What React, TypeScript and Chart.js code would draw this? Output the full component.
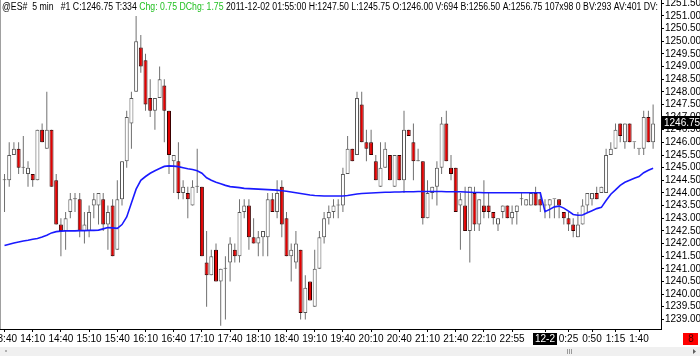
import React, { useEffect, useRef } from 'react';
import { Chart, registerables } from 'chart.js';

Chart.register(...registerables);

// ---- data (5 min bars, index 0 = 13:40) ----
const opens = [
  1244.5, 1244.5, 1245.5, 1245.75, 1245.0, 1244.75, 1244.75, 1244.5, 1246.5, 1245.75,
  1246.5, 1244.5, 1242.75, 1242.5, 1243.25, 1243.75, 1243.75, 1242.5, 1242.5, 1243.5,
  1243.5, 1243.75, 1242.75, 1243.5, 1241.75, 1243.75, 1245.25, 1246.75, 1248.0, 1249.75,
  1249.25, 1247.75, 1247.25, 1247.75, 1248.25, 1247.25, 1245.25, 1245.25, 1244.0, 1244.0,
  1243.5, 1244.25, 1244.25, 1241.25, 1240.75, 1241.75, 1240.5, 1241.0, 1241.25, 1241.75,
  1241.5, 1243.25, 1243.5, 1242.25, 1242.0, 1242.25, 1242.25, 1243.75, 1243.25, 1244.25,
  1243.0, 1241.5, 1241.25, 1241.75, 1239.25, 1240.5, 1239.5, 1241.0, 1242.25, 1243.0,
  1243.25, 1243.5, 1243.5, 1244.75, 1245.75, 1245.5, 1247.5, 1246.0, 1246.0, 1245.25,
  1244.25, 1245.0, 1245.5, 1244.25, 1245.5, 1244.5, 1246.5, 1246.0, 1245.25, 1245.25,
  1243.0, 1244.0, 1244.25, 1245.0, 1246.75, 1245.0, 1245.0, 1243.5, 1243.5, 1242.5,
  1244.0, 1242.75, 1243.5, 1243.5, 1243.25, 1242.75, 1243.25, 1243.5, 1243.0, 1243.25,
  1243.75, 1243.5, 1243.5, 1244.0, 1243.75, 1243.5, 1243.5, 1243.75, 1243.75, 1243.25,
  1243.0, 1242.75, 1242.25, 1242.75, 1243.5, 1243.75, 1244.0, 1244.0, 1244.0, 1245.5,
  1245.75, 1246.75, 1246.0, 1246.75, 1246.0, 1245.75, 1245.75, 1247.0, 1246.0,
];
const highs = [
  1244.75, 1246.0, 1246.0, 1246.0, 1246.25, 1245.25, 1244.75, 1246.5, 1246.75, 1248.0,
  1246.5, 1244.75, 1243.0, 1243.25, 1244.0, 1244.0, 1244.0, 1243.25, 1243.5, 1244.0,
  1244.0, 1244.0, 1243.5, 1243.75, 1244.5, 1245.25, 1247.25, 1248.0, 1251.0, 1250.25,
  1249.5, 1248.5, 1247.75, 1249.0, 1248.5, 1247.25, 1245.5, 1246.0, 1244.5, 1244.25,
  1244.5, 1245.75, 1244.25, 1242.5, 1241.75, 1242.0, 1241.0, 1241.5, 1242.25, 1242.0,
  1243.75, 1243.75, 1243.75, 1243.0, 1242.5, 1242.5, 1244.0, 1244.0, 1244.5, 1244.5,
  1243.25, 1242.0, 1242.5, 1241.75, 1240.75, 1240.5, 1241.75, 1242.5, 1243.25, 1243.5,
  1243.75, 1243.75, 1245.0, 1246.25, 1245.75, 1248.0, 1248.0, 1246.5, 1246.5, 1245.5,
  1246.0, 1246.0, 1245.5, 1245.5, 1245.5, 1247.25, 1246.5, 1246.75, 1245.75, 1245.25,
  1244.5, 1244.25, 1245.25, 1247.0, 1247.25, 1245.5, 1245.0, 1244.0, 1244.25, 1244.25,
  1244.25, 1243.75, 1244.5, 1244.0, 1243.25, 1243.0, 1243.5, 1243.5, 1243.5, 1243.5,
  1244.0, 1243.75, 1244.0, 1244.25, 1244.0, 1243.75, 1243.75, 1243.75, 1243.75, 1243.25,
  1243.25, 1243.0, 1243.25, 1243.75, 1244.0, 1244.0, 1244.25, 1244.25, 1245.75, 1246.0,
  1246.75, 1246.75, 1246.75, 1246.75, 1246.0, 1245.75, 1247.25, 1247.25, 1247.5,
];
const lows = [
  1243.25, 1244.25, 1245.5, 1244.75, 1244.75, 1244.25, 1244.25, 1244.5, 1246.0, 1245.75,
  1244.25, 1242.75, 1241.5, 1241.75, 1243.0, 1243.25, 1242.25, 1242.0, 1242.25, 1243.0,
  1242.75, 1242.5, 1241.75, 1241.5, 1241.75, 1243.5, 1245.0, 1245.75, 1248.0, 1248.75,
  1247.25, 1247.0, 1246.5, 1247.75, 1246.0, 1244.75, 1244.0, 1243.75, 1243.75, 1243.0,
  1243.5, 1244.0, 1241.5, 1239.5, 1240.75, 1240.5, 1238.75, 1239.0, 1240.5, 1241.25,
  1241.25, 1243.0, 1241.75, 1242.0, 1241.5, 1241.5, 1241.5, 1243.25, 1243.0, 1242.25,
  1241.5, 1240.5, 1241.0, 1239.0, 1239.0, 1239.75, 1239.5, 1241.0, 1242.0, 1242.75,
  1243.0, 1243.0, 1243.25, 1244.75, 1245.25, 1245.5, 1246.0, 1245.25, 1245.5, 1244.5,
  1244.25, 1245.0, 1244.5, 1244.25, 1244.5, 1244.0, 1246.25, 1244.5, 1245.25, 1242.75,
  1243.0, 1243.75, 1243.5, 1244.75, 1245.25, 1244.5, 1243.25, 1241.75, 1242.5, 1241.25,
  1242.5, 1242.5, 1243.0, 1243.0, 1242.75, 1242.5, 1243.0, 1243.0, 1242.75, 1242.75,
  1243.5, 1243.5, 1243.5, 1243.5, 1243.25, 1243.0, 1243.0, 1243.0, 1243.0, 1242.75,
  1242.5, 1242.25, 1242.25, 1242.75, 1243.25, 1243.5, 1243.75, 1244.0, 1244.0, 1245.5,
  1245.75, 1246.0, 1245.75, 1246.0, 1245.75, 1245.5, 1245.5, 1246.0, 1245.75,
];
const closes = [
  1244.5, 1245.5, 1245.75, 1245.0, 1245.0, 1245.0, 1244.5, 1246.5, 1246.0, 1246.5,
  1244.25, 1242.75, 1242.5, 1243.0, 1243.75, 1243.75, 1242.5, 1242.75, 1243.25, 1243.75,
  1244.0, 1242.75, 1243.25, 1241.5, 1243.75, 1245.25, 1247.0, 1247.75, 1250.0, 1249.0,
  1247.5, 1247.25, 1247.75, 1248.5, 1247.25, 1245.5, 1245.5, 1244.0, 1244.25, 1243.75,
  1244.25, 1244.25, 1241.5, 1240.75, 1241.5, 1240.5, 1241.0, 1241.0, 1242.0, 1241.5,
  1243.25, 1243.5, 1242.25, 1242.0, 1242.25, 1242.5, 1243.75, 1243.25, 1244.0, 1242.75,
  1241.5, 1241.75, 1242.0, 1239.25, 1240.25, 1239.75, 1241.0, 1242.25, 1243.0, 1243.25,
  1243.5, 1243.5, 1244.75, 1245.75, 1245.25, 1247.75, 1246.0, 1245.75, 1245.5, 1244.5,
  1245.0, 1245.75, 1244.5, 1245.5, 1244.5, 1246.5, 1246.25, 1245.25, 1245.25, 1243.0,
  1244.0, 1244.25, 1245.0, 1246.75, 1245.25, 1244.75, 1243.25, 1243.75, 1242.5, 1244.25,
  1242.75, 1243.75, 1243.25, 1243.25, 1243.0, 1243.0, 1243.5, 1243.0, 1243.25, 1243.5,
  1243.75, 1243.75, 1244.0, 1243.5, 1243.5, 1243.5, 1243.75, 1243.75, 1243.5, 1243.0,
  1242.75, 1242.5, 1242.75, 1243.5, 1244.0, 1244.0, 1243.75, 1244.25, 1245.5, 1245.75,
  1246.5, 1246.25, 1246.75, 1246.0, 1246.0, 1245.75, 1247.0, 1246.0, 1246.75,
];
const maValues = [
  1241.92, 1241.97, 1242.02, 1242.06, 1242.10, 1242.13, 1242.17, 1242.20, 1242.26, 1242.33,
  1242.42, 1242.47, 1242.49, 1242.50, 1242.50, 1242.50, 1242.51, 1242.51, 1242.52, 1242.52,
  1242.53, 1242.58, 1242.63, 1242.62, 1242.60, 1242.75, 1243.05, 1243.60, 1244.15, 1244.50,
  1244.65, 1244.78, 1244.88, 1244.97, 1245.05, 1245.07, 1245.06, 1245.04, 1245.00, 1244.96,
  1244.93, 1244.88, 1244.78, 1244.60, 1244.50, 1244.42, 1244.36, 1244.30, 1244.25, 1244.23,
  1244.21, 1244.18, 1244.17, 1244.16, 1244.15, 1244.14, 1244.13, 1244.12, 1244.11, 1244.09,
  1244.07, 1244.04, 1244.01, 1243.98, 1243.95, 1243.92, 1243.90, 1243.89, 1243.88, 1243.88,
  1243.88, 1243.88, 1243.88, 1243.90, 1243.93, 1243.96, 1243.98, 1243.99, 1244.00, 1244.01,
  1244.02, 1244.03, 1244.03, 1244.04, 1244.04, 1244.05, 1244.05, 1244.05, 1244.06, 1244.06,
  1244.06, 1244.06, 1244.06, 1244.06, 1244.05, 1244.05, 1244.05, 1244.05, 1244.04, 1244.03,
  1244.02, 1244.02, 1244.01, 1244.01, 1244.01, 1244.01, 1244.01, 1244.01, 1244.01, 1244.01,
  1244.01, 1244.01, 1244.01, 1244.01, 1244.01, 1243.26, 1243.35, 1243.45, 1243.48, 1243.40,
  1243.28, 1243.15, 1243.12, 1243.13, 1243.22, 1243.30, 1243.38, 1243.43, 1243.70, 1243.95,
  1244.12, 1244.30, 1244.42, 1244.50, 1244.58, 1244.65, 1244.80, 1244.90, 1244.98,
];
const tickBars = [0, 6, 12, 18, 24, 30, 36, 42, 48, 54, 60, 66, 72, 78, 84, 90, 96, 102, 108, 115, 120, 125, 130, 135];
const tickLabels = [
  '13:40', '14:10', '14:40', '15:10', '15:40', '16:10', '16:40', '17:10', '17:40', '18:10', '18:40', '19:10',
  '19:40', '20:10', '20:40', '21:10', '21:40', '22:10', '22:55', '12-2', '0:25', '0:50', '1:15', '1:40',
];
const dateLabel = '12-2';
const headerParts: [string, string][] = [
  ['@ES#  5 min   #1 C:1246.75 T:334 ', '#000000'],
  ['Chg: 0.75 DChg: 1.75', '#22c022'],
  [' 2011-12-02 01:55:00 H:1247.50 L:1245.75 O:1246.00 V:694 B:1256.50 A:1256.75 107x98 0 BV:293 AV:401 DV:', '#000000'],
];

const FAMILY = "'Liberation Sans Narrow', 'Liberation Sans', Arial, sans-serif";

const overlayPlugin = {
  id: 'overlay',
  afterDraw(chart: any) {
    const ctx: CanvasRenderingContext2D = chart.ctx;
    const area = chart.chartArea;
    const yScale = chart.scales.y;
    ctx.save();
    // left window border
    ctx.fillStyle = '#a0a0a0';
    ctx.fillRect(0, 0, 1, area.bottom);

    // header text, fitted to the header width
    ctx.font = `10px ${FAMILY}`;
    ctx.textBaseline = 'alphabetic';
    const total = headerParts.reduce((s, p) => s + ctx.measureText(p[0]).width, 0);
    const sx = (658 - 2) / total;
    ctx.save();
    ctx.translate(2, 10);
    ctx.scale(sx, 1);
    let cx = 0;
    for (const [txt, col] of headerParts) {
      ctx.fillStyle = col;
      ctx.fillText(txt, cx, 0);
      cx += ctx.measureText(txt).width;
    }
    ctx.restore();

    // last price marker
    const last = closes[closes.length - 1];
    const py = Math.round(yScale.getPixelForValue(last));
    ctx.fillStyle = '#000';
    ctx.fillRect(area.right + 1, py - 7, 700 - area.right - 1, 13);
    ctx.fillStyle = '#fff';
    ctx.textBaseline = 'middle';
    ctx.font = `10px ${FAMILY}`;
    ctx.fillText(last.toFixed(2), area.right + 3, py);

    // red marker box bottom right
    ctx.fillStyle = '#ff0000';
    ctx.fillRect(683, 333, 15, 12);
    ctx.fillStyle = '#4a0000';
    ctx.textAlign = 'center';
    ctx.fillText('8', 691, 339.5);

    // scrollbar
    ctx.fillStyle = '#f0f0f0';
    ctx.fillRect(0, 347, 700, 9);
    ctx.fillStyle = '#9a9a9a';
    for (let k = 0; k < 3; k++) ctx.fillRect(567 + k * 2, 349, 1, 5);
    ctx.beginPath();
    ctx.moveTo(693, 349); ctx.lineTo(696, 351.5); ctx.lineTo(693, 354); ctx.closePath();
    ctx.fillStyle = '#606060';
    ctx.fill();
    ctx.fillStyle = '#b0b0b0';
    ctx.fillRect(5, 350, 2, 2);
    ctx.restore();
  },
};

export default function App() {
  const ref = useRef<HTMLCanvasElement>(null);
  useEffect(() => {
    document.body.style.margin = '0';
    const canvas = ref.current as HTMLCanvasElement;
    const idx = opens.map((_, i) => i);
    const isDown = (i: number) => closes[i] < opens[i];
    const chart = new Chart(canvas, {
      type: 'bar',
      data: {
        datasets: [
          {
            type: 'line',
            label: 'MA',
            data: idx.map((i) => ({ x: i, y: maValues[i] })),
            borderColor: '#1a1aff',
            borderWidth: 1.6,
            pointRadius: 0,
            tension: 0,
            order: 0,
          } as any,
          {
            type: 'bar',
            label: 'Body',
            data: idx.map((i) => ({ x: i, y: [opens[i], closes[i]] })),
            backgroundColor: idx.map((i) => (isDown(i) ? '#e40000' : '#ffffff')),
            borderColor: idx.map((i) => (isDown(i) ? '#3a0000' : '#585858')),
            borderWidth: 1,
            borderSkipped: false,
            barThickness: 4,
            minBarLength: 1,
            grouped: false,
            inflateAmount: 0,
            order: 1,
          } as any,
          {
            type: 'bar',
            label: 'Wick',
            data: idx.map((i) => ({ x: i, y: [lows[i], highs[i]] })),
            backgroundColor: '#707070',
            borderWidth: 0,
            barThickness: 1,
            grouped: false,
            inflateAmount: 0,
            order: 2,
          } as any,
        ],
      },
      options: {
        animation: false,
        responsive: false,
        events: [],
        layout: { padding: 0 },
        plugins: { legend: { display: false }, tooltip: { enabled: false } },
        scales: {
          x: {
            type: 'linear',
            min: -0.96,
            max: 139.68,
            offset: false,
            grid: { display: true, drawOnChartArea: false, drawTicks: true, tickLength: 3, color: '#000', offset: false },
            border: { display: true, color: '#000', width: 1 },
            ticks: {
              autoSkip: false,
              maxRotation: 0,
              minRotation: 0,
              padding: 1,
              font: { family: FAMILY, size: 10 },
              color: (c: any) => (c.tick && c.tick.label === dateLabel ? '#ffffff' : '#000000'),
              showLabelBackdrop: (c: any) => !!(c.tick && c.tick.label === dateLabel),
              backdropColor: '#000',
              backdropPadding: { left: 2, right: 2, top: 0, bottom: 0 },
              callback: (v: any) => {
                const k = tickBars.indexOf(Number(v));
                return k >= 0 ? tickLabels[k] : '';
              },
            },
            afterBuildTicks: (s: any) => {
              s.ticks = tickBars.map((v) => ({ value: v }));
            },
            afterFit: (s: any) => {
              s.height = 27;
              s.paddingLeft = 0;
              s.paddingRight = 0;
            },
          } as any,
          y: {
            type: 'linear',
            position: 'right',
            min: 1238.62,
            max: 1251.63,
            grid: { display: true, drawOnChartArea: false, drawTicks: true, tickLength: 3, color: '#000' },
            border: { display: true, color: '#000', width: 1 },
            ticks: {
              stepSize: 0.5,
              includeBounds: false,
              autoSkip: false,
              padding: 1,
              font: { family: FAMILY, size: 10 },
              color: '#000',
              callback: (v: any) => Number(v).toFixed(2),
            },
            afterFit: (s: any) => {
              s.width = 39;
              s.paddingTop = 0;
              s.paddingBottom = 0;
            },
          } as any,
        },
      },
      plugins: [overlayPlugin],
    });
    return () => chart.destroy();
  }, []);
  return <canvas ref={ref} width={700} height={356} style={{ display: 'block' }} />;
}
